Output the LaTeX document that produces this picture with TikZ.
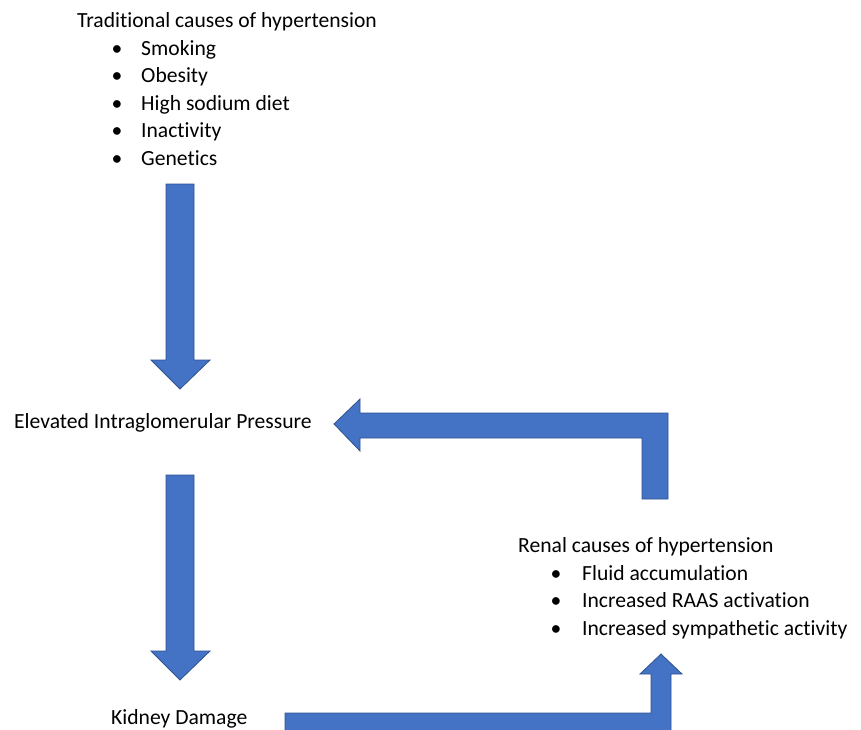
\documentclass[tikz,border=0pt]{standalone}
\usepackage{fontspec}
\setmainfont{Carlito}[Ligatures={NoCommon}]
\definecolor{arrowfill}{HTML}{4472C4}
\definecolor{arrowline}{HTML}{2F528F}
\begin{document}
\begin{tikzpicture}[x=1pt,y=-1pt,
  txt/.style={inner sep=0pt, anchor=base west, font=\fontsize{21.6}{26}\selectfont},
  bul/.style={inner sep=0pt, anchor=base, font=\fontsize{21.6}{26}\selectfont},
  blockarrow/.style={fill=arrowfill, draw=arrowline, line width=0.8pt, line join=miter}]
\useasboundingbox (0,0) rectangle (861,729);
\clip (0,0) rectangle (861,729);
% texts
\node[txt] (trad) at (77,27.5) {Traditional causes of hypertension};
\node[bul] (b1) at (117,55) {•};
\node[txt] (t1) at (141,55) {Smoking};
\node[bul] (b2) at (117,82.5) {•};
\node[txt] (t2) at (141,82.5) {Obesity};
\node[bul] (b3) at (117,110) {•};
\node[txt] (t3) at (141,110) {High sodium diet};
\node[bul] (b4) at (117,137.5) {•};
\node[txt] (t4) at (141,137.5) {Inactivity};
\node[bul] (b5) at (117,165) {•};
\node[txt] (t5) at (141,165) {Genetics};
\node[txt] (eip) at (14,428.5) {Elevated Intraglomerular Pressure};
\node[txt] (kd) at (111,724.5) {Kidney Damage};
\node[txt] (renal) at (518,552.5) {Renal causes of hypertension};
\node[bul] (r1b) at (556,580) {•};
\node[txt] (r1) at (582,580) {Fluid accumulation};
\node[bul] (r2b) at (556,607.5) {•};
\node[txt] (r2) at (582,607.5) {Increased RAAS activation};
\node[bul] (r3b) at (556,635) {•};
\node[txt] (r3) at (582,635) {Increased sympathetic activity};
% block arrows
\draw[blockarrow] (166,184) -- (194,184) -- (194,360) -- (210,360) -- (180,389) -- (151,360) -- (166,360) -- cycle;
\draw[blockarrow] (166,475) -- (194,475) -- (194,651) -- (210,651) -- (180,680) -- (151,651) -- (166,651) -- cycle;
\draw[blockarrow] (334,424) -- (360,399) -- (360,413) -- (668,413) -- (668,499) -- (642,499) -- (642,438) -- (360,438) -- (360,451) -- cycle;
\draw[blockarrow] (285,713) -- (651,713) -- (651,674) -- (640,674) -- (661,654) -- (682,674) -- (671,674) -- (671,735) -- (285,735) -- cycle;
\end{tikzpicture}
\end{document}
